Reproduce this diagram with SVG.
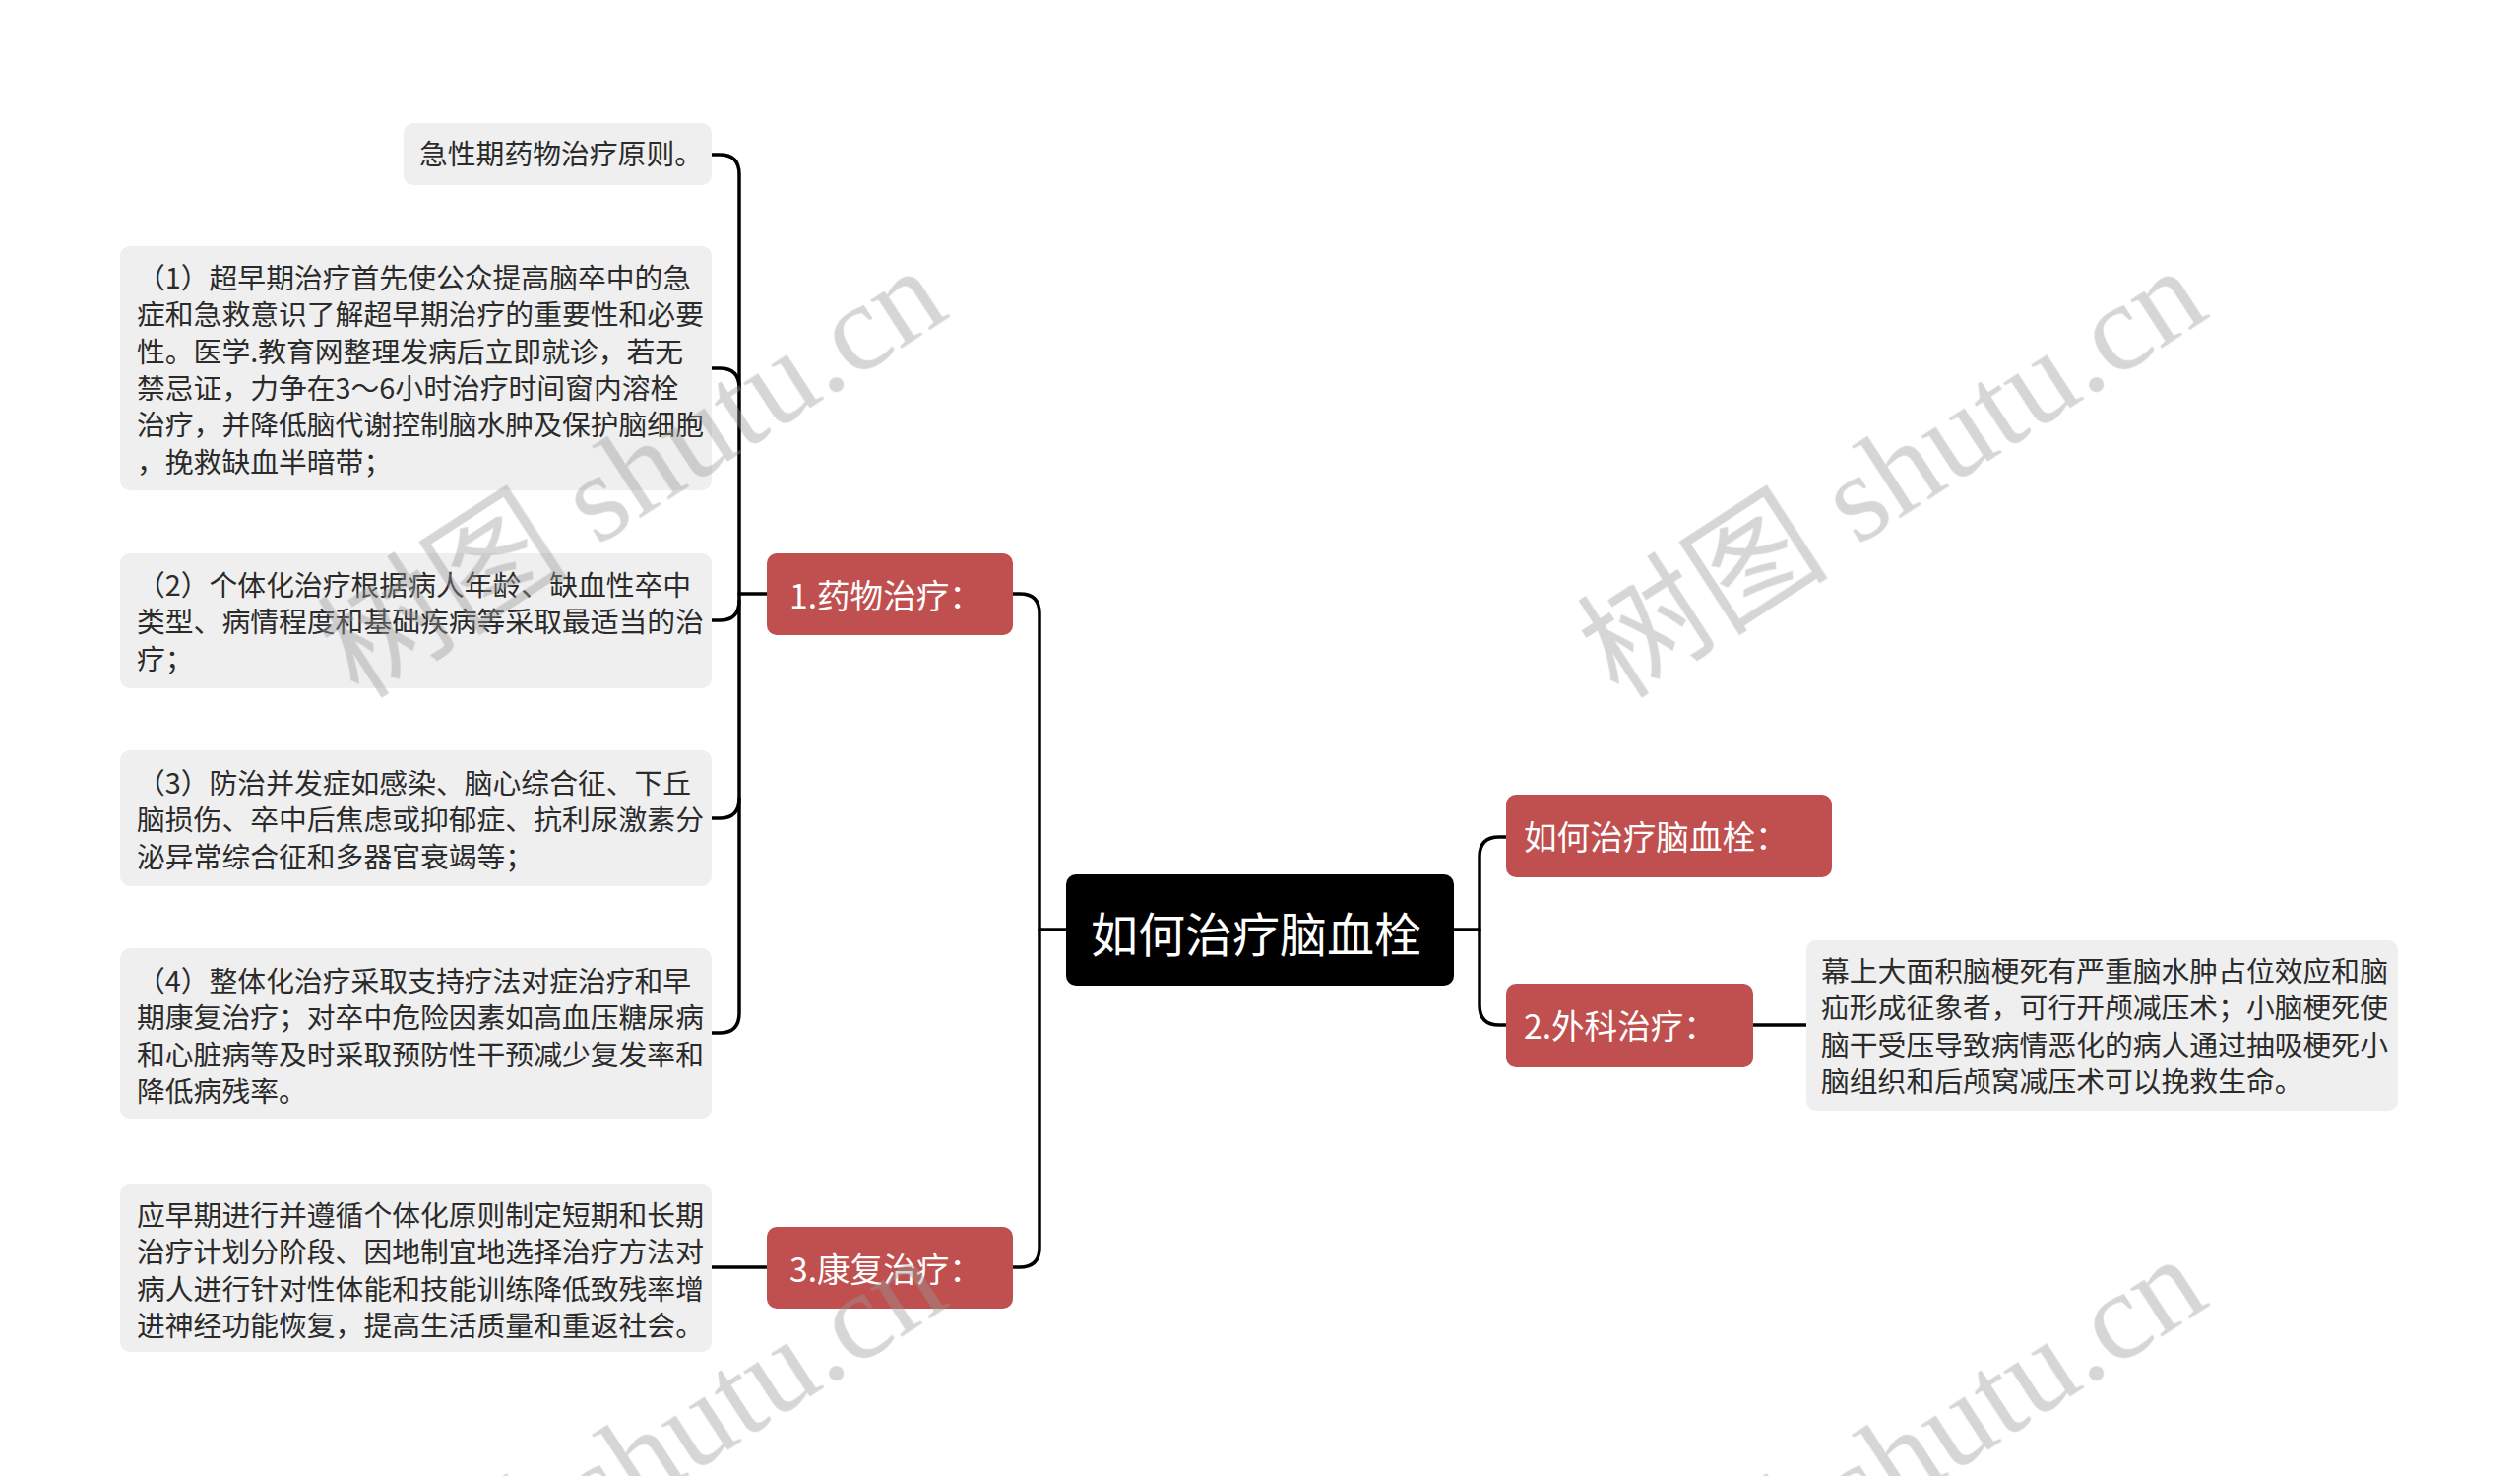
<svg xmlns="http://www.w3.org/2000/svg" width="2560" height="1499" viewBox="0 0 2560 1499">
<style>
.t{font-family:"Noto Sans CJK SC","Noto Sans",sans-serif;}
.d rect{fill:#efefef;}
.d text{font-size:28.8px;fill:#2b2b2b;}
.r rect{fill:#bf504f;}
.r text{font-size:33.6px;fill:#ffffff;}
.c path{fill:none;stroke:#000;stroke-width:3.5;stroke-linecap:round;}
.wm{font-family:"Liberation Serif","Noto Sans CJK SC",serif;font-size:128px;fill:#9a9a9a;opacity:0.4;}
</style>
<rect width="2560" height="1499" fill="#ffffff"/>
<g id="connectors" class="c">
<path d="M1083,944 H1056"/>
<path d="M1029,603 H1036 Q1056,603 1056,623 V1267 Q1056,1287 1036,1287 H1029"/>
<path d="M779,603 H751"/>
<path d="M723,157 H731 Q751,157 751,177 V1029 Q751,1049 731,1049 H723"/>
<path d="M751,394 Q751,374 731,374 H723"/>
<path d="M751,610 Q751,630 731,630 H723"/>
<path d="M751,811 Q751,831 731,831 H723"/>
<path d="M779,1287 H723"/>
<path d="M1477,944 H1503"/>
<path d="M1530,850 H1523 Q1503,850 1503,870 V1021 Q1503,1041 1523,1041 H1530"/>
<path d="M1781,1041 H1836"/>
</g>
<g id="root" class="t">
<rect x="1083" y="888" width="394" height="113" rx="10" fill="#000"/>
<text x="1108" y="967" font-size="48" fill="#fff">如何治疗脑血栓</text>
</g>
<g id="n1" class="t r">
<rect x="779" y="562" width="250" height="83" rx="10"/>
<text x="802" y="618">1.药物治疗：</text>
</g>
<g id="n3" class="t r">
<rect x="779" y="1246" width="250" height="83" rx="10"/>
<text x="802" y="1302">3.康复治疗：</text>
</g>
<g id="n0" class="t r">
<rect x="1530" y="807" width="331" height="84" rx="10"/>
<text x="1548" y="863">如何治疗脑血栓：</text>
</g>
<g id="n2" class="t r">
<rect x="1530" y="999" width="251" height="85" rx="10"/>
<text x="1548" y="1055">2.外科治疗：</text>
</g>
<g id="d0" class="t d">
<rect x="410" y="125" width="313" height="63" rx="10"/>
<text x="426" y="167">急性期药物治疗原则。</text>
</g>
<g id="d1" class="t d">
<rect x="122" y="250" width="601" height="248" rx="10"/>
<text x="139" y="293"><tspan x="139">（1）超早期治疗首先使公众提高脑卒中的急</tspan><tspan x="139" dy="37.3">症和急救意识了解超早期治疗的重要性和必要</tspan><tspan x="139" dy="37.3">性。医学.教育网整理发病后立即就诊，若无</tspan><tspan x="139" dy="37.3">禁忌证，力争在3～6小时治疗时间窗内溶栓</tspan><tspan x="139" dy="37.3">治疗，并降低脑代谢控制脑水肿及保护脑细胞</tspan><tspan x="139" dy="37.3">，挽救缺血半暗带；</tspan></text>
</g>
<g id="d2" class="t d">
<rect x="122" y="562" width="601" height="137" rx="10"/>
<text x="139" y="605"><tspan x="139">（2）个体化治疗根据病人年龄、缺血性卒中</tspan><tspan x="139" dy="37.3">类型、病情程度和基础疾病等采取最适当的治</tspan><tspan x="139" dy="37.3">疗；</tspan></text>
</g>
<g id="d3" class="t d">
<rect x="122" y="762" width="601" height="138" rx="10"/>
<text x="139" y="806"><tspan x="139">（3）防治并发症如感染、脑心综合征、下丘</tspan><tspan x="139" dy="37.3">脑损伤、卒中后焦虑或抑郁症、抗利尿激素分</tspan><tspan x="139" dy="37.3">泌异常综合征和多器官衰竭等；</tspan></text>
</g>
<g id="d4" class="t d">
<rect x="122" y="963" width="601" height="173" rx="10"/>
<text x="139" y="1007"><tspan x="139">（4）整体化治疗采取支持疗法对症治疗和早</tspan><tspan x="139" dy="37.3">期康复治疗；对卒中危险因素如高血压糖尿病</tspan><tspan x="139" dy="37.3">和心脏病等及时采取预防性干预减少复发率和</tspan><tspan x="139" dy="37.3">降低病残率。</tspan></text>
</g>
<g id="d5" class="t d">
<rect x="122" y="1202" width="601" height="171" rx="10"/>
<text x="139" y="1245"><tspan x="139">应早期进行并遵循个体化原则制定短期和长期</tspan><tspan x="139" dy="37.3">治疗计划分阶段、因地制宜地选择治疗方法对</tspan><tspan x="139" dy="37.3">病人进行针对性体能和技能训练降低致残率增</tspan><tspan x="139" dy="37.3">进神经功能恢复，提高生活质量和重返社会。</tspan></text>
</g>
<g id="d6" class="t d">
<rect x="1835" y="955" width="601" height="173" rx="10"/>
<text x="1850" y="997"><tspan x="1850">幕上大面积脑梗死有严重脑水肿占位效应和脑</tspan><tspan x="1850" dy="37.3">疝形成征象者，可行开颅减压术；小脑梗死使</tspan><tspan x="1850" dy="37.3">脑干受压导致病情恶化的病人通过抽吸梗死小</tspan><tspan x="1850" dy="37.3">脑组织和后颅窝减压术可以挽救生命。</tspan></text>
</g>
<g id="watermark" class="wm">
<text transform="translate(365,712) rotate(-33)">树图 shutu.cn</text>
<text transform="translate(1645,712) rotate(-33)">树图 shutu.cn</text>
<text transform="translate(365,1716) rotate(-33)">树图 shutu.cn</text>
<text transform="translate(1645,1716) rotate(-33)">树图 shutu.cn</text>
</g>
</svg>
